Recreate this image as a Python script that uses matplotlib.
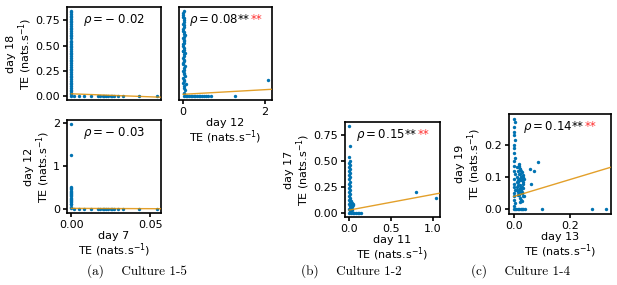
import numpy as np
import matplotlib.pyplot as plt
from matplotlib.offsetbox import AnchoredOffsetbox, HPacker, TextArea

# ---- data ----
# culture 1-5 : day 7 / day 12 / day 18
d7_flat_x = [0.002, 0.005, 0.008, 0.0125, 0.017, 0.0185, 0.02, 0.021, 0.022,
             0.0235, 0.025, 0.026, 0.027, 0.0295, 0.033, 0.043, 0.054]
d18_stripe_y = [0.84, 0.83, 0.81, 0.795, 0.78, 0.76, 0.745, 0.73, 0.71, 0.69,
                0.675, 0.66, 0.64, 0.62, 0.605, 0.59, 0.57, 0.55, 0.535, 0.52,
                0.5, 0.485, 0.47, 0.45, 0.43, 0.415, 0.4, 0.38, 0.36, 0.345,
                0.33, 0.31, 0.29, 0.27, 0.255, 0.24, 0.22, 0.2, 0.185, 0.17,
                0.15, 0.13, 0.115, 0.1, 0.08, 0.06, 0.045, 0.03, 0.015, 0.0]
d12_stripe_x = [0.01, 0.0, 0.02, 0.01, 0.03, 0.0, 0.02, 0.04, 0.01, 0.03,
                0.0, 0.02, 0.04, 0.01, 0.03, 0.0, 0.05, 0.02, 0.01, 0.04,
                0.03, 0.0, 0.02, 0.05, 0.01, 0.0, 0.03, 0.06, 0.02, 0.0,
                0.0, 0.01, 0.0, 0.02, 0.0, 0.01, 0.0, 0.02, 0.0, 0.01,
                0.0, 0.02, 0.0, 0.01, 0.0, 0.02, 0.0, 0.01, 0.0, 0.03]
d18_vs12_stripe_y = [0.84, 0.8, 0.77, 0.73, 0.7, 0.66, 0.63, 0.6, 0.56, 0.53,
                     0.5, 0.46, 0.43, 0.4, 0.36, 0.33, 0.3, 0.26, 0.23, 0.2,
                     0.16, 0.13, 0.1, 0.06, 0.03, 0.82, 0.58, 0.12, 0.08, 0.45,
                     0.785, 0.75, 0.715, 0.68, 0.645, 0.615, 0.575, 0.545, 0.515, 0.48,
                     0.445, 0.415, 0.38, 0.345, 0.315, 0.28, 0.245, 0.215, 0.18, 0.145]
d12_flat_x = [0.03, 0.07, 0.1, 0.14, 0.18, 0.22, 0.26, 0.3, 0.34, 0.38, 0.42,
              0.46, 0.5, 0.55, 0.6, 0.68, 1.27]
d12_out_x = [2.07]
d18_out_y = [0.155]
d12_stripe_y = [1.97, 1.25, 0.5, 0.48, 0.45, 0.42, 0.4, 0.37, 0.34, 0.31,
                0.29, 0.26, 0.23, 0.2, 0.18, 0.15, 0.12, 0.1, 0.05, 0.02]

# culture 1-2 : day 11 / day 17
d11_x = [0.0, 0.005, 0.0, 0.01, 0.0, 0.005, 0.0, 0.01, 0.0, 0.005, 0.0, 0.01,
         0.0, 0.005, 0.0, 0.01, 0.0, 0.005, 0.0, 0.01, 0.0, 0.005, 0.0, 0.01,
         0.0, 0.005, 0.0, 0.01, 0.0,
         0.015, 0.02, 0.025, 0.03, 0.035, 0.04, 0.02, 0.03, 0.025, 0.035, 0.045, 0.015,
         0.02, 0.04, 0.06, 0.08, 0.1, 0.12, 0.14,
         0.8, 1.035]
d17_y = [0.83, 0.64, 0.54, 0.5, 0.48, 0.46, 0.44, 0.42, 0.4, 0.38, 0.36, 0.34,
         0.32, 0.3, 0.28, 0.26, 0.24, 0.22, 0.2, 0.18, 0.16, 0.14, 0.12, 0.1,
         0.08, 0.06, 0.04, 0.02, 0.0,
         0.12, 0.1, 0.08, 0.06, 0.05, 0.07, 0.04, 0.09, 0.11, 0.03, 0.08, 0.065,
         0.0, 0.0, 0.0, 0.0, 0.0, 0.0, 0.0,
         0.2, 0.14]

# culture 1-4 : day 13 / day 19
d13_x = [0.0, 0.004, 0.0, 0.003, 0.0, 0.004, 0.0, 0.003, 0.0, 0.004, 0.0, 0.003,
         0.0, 0.004, 0.0, 0.003, 0.0, 0.004, 0.0, 0.003, 0.0, 0.004, 0.0, 0.003,
         0.012, 0.015, 0.018, 0.02, 0.022, 0.025, 0.028, 0.03, 0.033, 0.035,
         0.038, 0.012, 0.016, 0.02, 0.024, 0.028, 0.032, 0.036, 0.014, 0.018,
         0.022, 0.026, 0.03, 0.034, 0.02, 0.025, 0.03,
         0.011, 0.013, 0.017, 0.019, 0.021, 0.023, 0.027, 0.029, 0.031, 0.015,
         0.018, 0.022, 0.026, 0.024, 0.02, 0.016, 0.028, 0.032, 0.012, 0.034,
         0.087, 0.06, 0.071, 0.063, 0.021,
         0.005, 0.01, 0.015, 0.02, 0.025, 0.03, 0.035, 0.04, 0.1, 0.28, 0.33]
d19_y = [0.28, 0.27, 0.255, 0.24, 0.23, 0.215, 0.2, 0.19, 0.175, 0.16, 0.15,
         0.135, 0.12, 0.11, 0.095, 0.08, 0.07, 0.06, 0.05, 0.04, 0.03, 0.02,
         0.01, 0.0,
         0.13, 0.12, 0.135, 0.11, 0.125, 0.1, 0.115, 0.09, 0.105, 0.08,
         0.095, 0.07, 0.085, 0.06, 0.075, 0.05, 0.065, 0.04, 0.055, 0.045,
         0.035, 0.06, 0.05, 0.04, 0.14, 0.03, 0.025,
         0.1, 0.085, 0.075, 0.095, 0.065, 0.11, 0.12, 0.07, 0.1, 0.045,
         0.055, 0.09, 0.1, 0.125, 0.13, 0.09, 0.055, 0.085, 0.06, 0.1,
         0.146, 0.125, 0.12, 0.077, 0.023,
         0.0, 0.0, 0.0, 0.0, 0.0, 0.0, 0.0, 0.0, 0.0, 0.0, 0.0]

# regression lines (intercept, slope) and correlation labels
fit_a_tl = (0.02, -0.6)
fit_a_tr = (0.015, 0.023)
fit_a_bl = (0.01, -0.15)
fit_b = (0.025, 0.15)
fit_c = (0.04, 0.26)
rho_text = ["$\\rho = -\\;0.02$", "$\\rho = 0.08$**", "$\\rho = -\\;0.03$",
            "$\\rho = 0.15$**", "$\\rho = 0.14$**"]
rho_red = ["", "**", "", "**", "**"]

BLUE = "#0173b2"
ORANGE = "#de8f05"
plt.rcParams["font.size"] = 8

fig = plt.figure(figsize=(6.17, 2.85), dpi=100)
ax_tl = fig.add_axes([0.1086, 0.649, 0.152, 0.326])
ax_bl = fig.add_axes([0.1086, 0.2526, 0.152, 0.326], sharex=ax_tl)
ax_tr = fig.add_axes([0.290, 0.649, 0.151, 0.326], sharey=ax_tl)
ax_b = fig.add_axes([0.559, 0.2386, 0.154, 0.333])
ax_c = fig.add_axes([0.825, 0.249, 0.165, 0.351])
all_axes = [ax_tl, ax_tr, ax_bl, ax_b, ax_c]

kw = dict(s=6, color=BLUE, linewidths=0, zorder=2)
ax_tl.scatter(np.zeros(len(d18_stripe_y)), d18_stripe_y, **kw)
ax_tl.scatter(d7_flat_x, np.zeros(len(d7_flat_x)), **kw)
ax_tr.scatter(d12_stripe_x, d18_vs12_stripe_y, **kw)
ax_tr.scatter(d12_flat_x, np.zeros(len(d12_flat_x)), **kw)
ax_tr.scatter(d12_out_x, d18_out_y, **kw)
ax_bl.scatter(np.zeros(len(d12_stripe_y)), d12_stripe_y, **kw)
ax_bl.scatter(d7_flat_x, np.zeros(len(d7_flat_x)), **kw)
ax_b.scatter(d11_x, d17_y, **kw)
ax_c.scatter(d13_x, d19_y, **kw)

for ax in all_axes:
    ax.autoscale_view()
lims = {ax: (ax.get_xlim(), ax.get_ylim()) for ax in all_axes}

fits = [fit_a_tl, fit_a_tr, fit_a_bl, fit_b, fit_c]
for ax, (b0, b1) in zip(all_axes, fits):
    (x0, x1), ylim = lims[ax]
    xs = np.array([0.0, x1])
    ax.plot(xs, b0 + b1 * xs, color=ORANGE, lw=1.0, alpha=0.85, zorder=3)

for ax in all_axes:
    ax.set_xlim(lims[ax][0])
    ax.set_ylim(lims[ax][1])
    for sp in ax.spines.values():
        sp.set_linewidth(1.2)
    ax.tick_params(direction="out", length=3, width=1.2, labelsize=8, pad=2)

label = "TE (nats.s$^{-1}$)"
lab_kw = dict(labelpad=1, linespacing=1.0)
ax_tl.tick_params(bottom=False, labelbottom=False)
ax_tl.set_yticks([0, 0.25, 0.5, 0.75])
ax_tl.set_ylabel("day 18\n" + label, **lab_kw)
ax_tr.tick_params(left=False, labelleft=False)
ax_tr.set_xticks([0, 2])
ax_tr.set_xlabel("day 12\n" + label, **lab_kw)
ax_bl.set_xticks([0.0, 0.05])
ax_bl.set_yticks([0, 1, 2])
ax_bl.set_xlabel("day 7\n" + label, **lab_kw)
ax_bl.set_ylabel("day 12\n" + label, **lab_kw)
ax_b.set_xticks([0.0, 0.5, 1.0])
ax_b.set_yticks([0, 0.25, 0.5, 0.75])
ax_b.set_xlabel("day 11\n" + label, **lab_kw)
ax_b.set_ylabel("day 17\n" + label, **lab_kw)
ax_c.set_xticks([0.0, 0.2])
ax_c.set_yticks([0.0, 0.1, 0.2])
ax_c.set_xlabel("day 13\n" + label, **lab_kw)
ax_c.set_ylabel("day 19\n" + label, **lab_kw)

# correlation text, black part + red significance stars
for ax, txt, red in zip(all_axes, rho_text, rho_red):
    parts = [TextArea(txt, textprops=dict(fontsize=8.5, color="black"))]
    if red:
        parts.append(TextArea(red, textprops=dict(fontsize=8.5, color="#ff3030")))
    box = HPacker(children=parts, align="baseline", pad=0, sep=0)
    ab = AnchoredOffsetbox(loc="upper center", child=box, pad=0, borderpad=0,
                           frameon=False, bbox_to_anchor=(0.5, 0.95),
                           bbox_transform=ax.transAxes)
    ax.add_artist(ab)

captions = ["(a)    Culture 1-5", "(b)    Culture 1-2", "(c)    Culture 1-4"]
cap_x = [0.222, 0.569, 0.843]
for x, c in zip(cap_x, captions):
    fig.text(x, 0.05, c, family="cmr10", fontsize=9.5, ha="center", va="center")

fig.savefig("out.png", dpi=100)
